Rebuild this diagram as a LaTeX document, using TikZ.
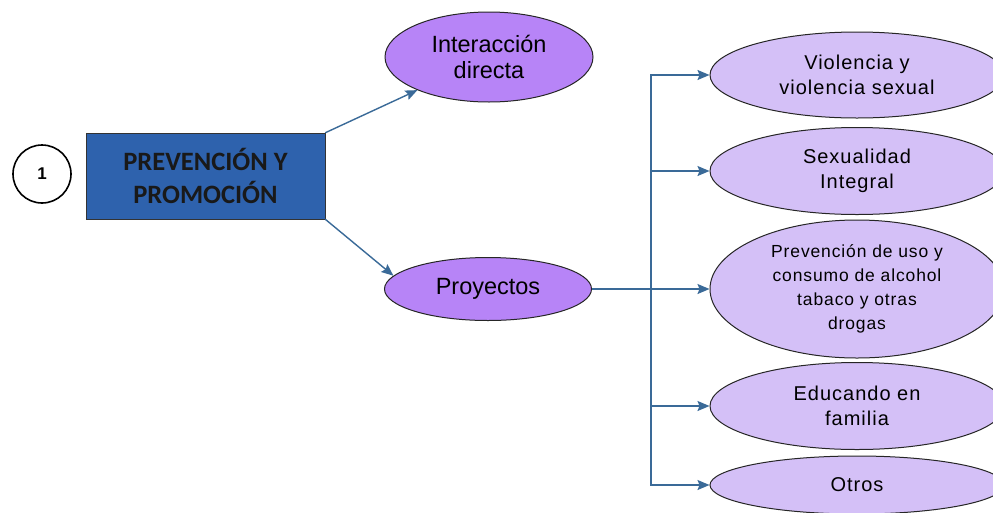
\documentclass[tikz,border=0pt]{standalone}
\usepackage{fontspec}
\setmainfont{Liberation Sans}
\newfontfamily\boxfont{Carlito}
\newfontfamily\widefont[LetterSpace=5]{Liberation Sans}
\usetikzlibrary{shapes.geometric, arrows.meta}
\definecolor{linkblue}{RGB}{58,106,152}
\definecolor{boxblue}{RGB}{46,98,173}
\definecolor{midpurple}{RGB}{183,132,247}
\definecolor{lightpurple}{RGB}{212,192,247}

\begin{document}
\begin{tikzpicture}[x=1pt, y=-1pt,
	conn/.style={linkblue, line width=1.4pt, -{Stealth[length=12pt, width=10pt, inset=2pt]}},
	bigoval/.style={ellipse, draw=black!85, line width=1pt, fill=midpurple, inner sep=0pt, align=center, font=\fontsize{23.5}{26}\selectfont},
	smalloval/.style={bigoval, fill=lightpurple, minimum width=294pt, font=\widefont\fontsize{20}{25}\selectfont}]
			\useasboundingbox (0,0) rectangle (993,512);
			\clip (0,0) rectangle (993,512);
			\fill[white] (0,0) rectangle (993,512);
			
			\node[circle, draw, line width=1.6pt, minimum size=58pt, inner sep=0pt, font=\bfseries\fontsize{17}{17}\selectfont] (num) at (42,174) {1};
			\node[draw=black!80, fill=boxblue, minimum width=239pt, minimum height=86pt, align=center, text=black!90, font=\boxfont\bfseries\fontsize{26.5}{33}\selectfont] (prev) at (205.5,176) {PREVENCIÓN Y\\PROMOCIÓN};
			
			\node[bigoval, minimum width=208pt, minimum height=90pt] (inter) at (489,57) {Interacción\\directa};
			\node[bigoval, minimum width=207pt, minimum height=63pt] (proy) at (488,289) {Proyectos};
			
			\node[smalloval, minimum height=86pt] (viol) at (857,75) {Violencia y\\violencia sexual};
			\node[smalloval, minimum height=87pt] (sexu) at (857,171) {Sexualidad\\Integral};
			\node[smalloval, minimum height=138pt, font=\widefont\fontsize{17.5}{24}\selectfont] (drog) at (857,289) {Prevención de uso y\\consumo de alcohol\\tabaco y otras\\drogas};
			\node[smalloval, minimum height=87pt] (educ) at (857,406) {Educando en\\familia};
			\node[smalloval, minimum height=58pt] (otros) at (857,485) {Otros};
			
			\coordinate (bus) at (651,0);
			\draw[conn] (prev.north east) -- (inter);
			\draw[conn] (prev.south east) -- (proy.172);
			\foreach \n in {viol, sexu, drog, educ, otros}
				\draw[conn] (proy.east) -- (proy.east -| bus) |- (\n.west);
		\end{tikzpicture}
\end{document}
